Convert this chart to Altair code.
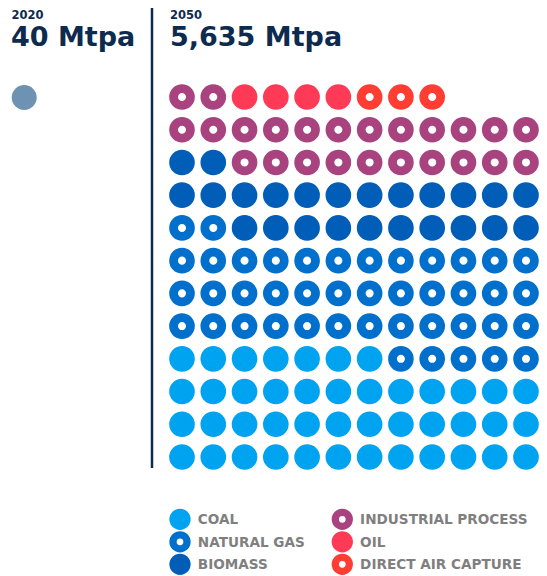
import altair as alt
import pandas as pd

# ---- data ----
categories = ["COAL", "NATURAL GAS", "BIOMASS", "INDUSTRIAL PROCESS", "OIL", "DIRECT AIR CAPTURE"]
counts = [43, 43, 24, 24, 4, 3]          # dots in the 2050 waffle (each dot ~ 40 Mtpa)
fill_colors = ["#00A3F0", "#FFFFFF", "#005EB8", "#FFFFFF", "#FF3A57", "#FFFFFF"]
stroke_colors = ["#00A3F0", "#0070CC", "#005EB8", "#A9437F", "#FF3A57", "#FF3D33"]
n_cols = 12
legend_rows_per_col = 3

rows = []
i = 0
for cat, n in zip(categories, counts):
    for _ in range(n):
        rows.append({"cat": cat, "col": i % n_cols, "row": i // n_cols})
        i += 1
df = pd.DataFrame(rows)

leg_df = pd.DataFrame({
    "cat": categories,
    "lcol": [k // legend_rows_per_col for k in range(len(categories))],
    "lrow": [k % legend_rows_per_col for k in range(len(categories))],
})

NAVY = "#0D2B4E"
FONT = "DejaVu Sans"

fill_enc = alt.Fill("cat:N", scale=alt.Scale(domain=categories, range=fill_colors), legend=None)
stroke_enc = alt.Stroke("cat:N", scale=alt.Scale(domain=categories, range=stroke_colors), legend=None)

waffle = alt.Chart(df).mark_point(shape="circle", filled=True, size=284, strokeWidth=8.8, opacity=1).encode(
    x=alt.X("col:Q", scale=alt.Scale(domain=[0, 11], range=[174, 518]), axis=None),
    y=alt.Y("row:Q", scale=alt.Scale(domain=[0, 11], range=[449, 89]), axis=None),
    fill=fill_enc,
    stroke=stroke_enc,
)

lx = alt.X("lcol:Q", scale=alt.Scale(domain=[0, 1], range=[172, 334.3]), axis=None)
ly = alt.Y("lrow:Q", scale=alt.Scale(domain=[0, 2], range=[511.3, 556.3]), axis=None)

leg_sym = alt.Chart(leg_df).mark_point(shape="circle", filled=True, size=196, strokeWidth=7.3, opacity=1).encode(
    x=lx, y=ly, fill=fill_enc, stroke=stroke_enc)
leg_txt = alt.Chart(leg_df).mark_text(font=FONT, fontWeight="bold", fontSize=13.6, color="#7f7f7f",
                                      align="left", baseline="alphabetic", dx=17.8, dy=5).encode(
    x=lx, y=ly, text="cat:N")
legend = alt.layer(leg_sym, leg_txt)

base = alt.Chart(pd.DataFrame({"k": [0]}))

dot2020 = base.mark_point(shape="circle", filled=True, size=625, color="#6E92B2", opacity=1).encode(
    x=alt.value(16.2), y=alt.value(89.5))

divider = base.mark_rule(color=NAVY, strokeWidth=2.5).encode(
    x=alt.value(144), y=alt.value(0), y2=alt.value(460))

def label(text, x, y, size):
    return base.mark_text(text=text, font=FONT, fontWeight="bold", fontSize=size, color=NAVY,
                          align="left", baseline="alphabetic").encode(x=alt.value(x), y=alt.value(y))

texts = [
    label("2020", 3.5, 10.8, 11.5),
    label("40 Mtpa", 3, 37.5, 27),
    label("2050", 162, 10.8, 11.5),
    label("5,635 Mtpa", 162, 37.5, 27),
]

chart = alt.layer(waffle, dot2020, divider, *texts, legend).resolve_scale(
    x="independent", y="independent"
).properties(
    width=531, height=567, padding=0,
    autosize=alt.AutoSizeParams(type="none"),
).configure_view(stroke=None)

chart.save("out.html", embed_options={"renderer": "svg", "actions": False})
